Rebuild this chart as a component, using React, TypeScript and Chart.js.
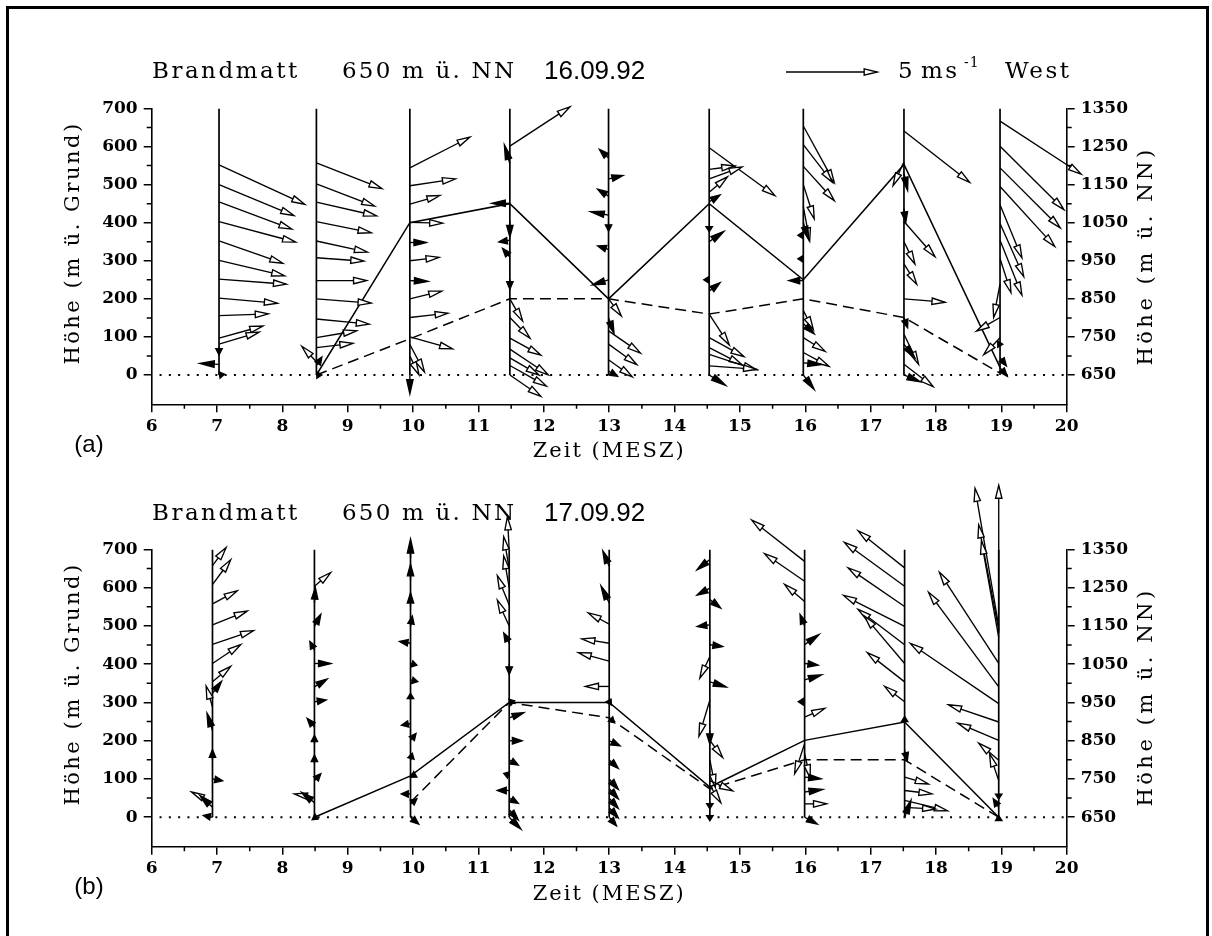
import React, { useEffect, useRef } from 'react';
import { Chart, registerables } from 'chart.js';
Chart.register(...registerables);

// ---------- axes ----------
const xTickValues = [6, 7, 8, 9, 10, 11, 12, 13, 14, 15, 16, 17, 18, 19, 20];
const xMinorValues = [6.5, 7.5, 8.5, 9.5, 10.5, 11.5, 12.5, 13.5, 14.5, 15.5, 16.5, 17.5, 18.5, 19.5];
const yTickValues = [0, 100, 200, 300, 400, 500, 600, 700];
const yMinorValues = [50, 150, 250, 350, 450, 550, 650];
const y2TickValues = [650, 750, 850, 950, 1050, 1150, 1250, 1350];
const y2MinorValues = [700, 800, 900, 1000, 1100, 1200, 1300];
const STATION_HEIGHT = 650;

// arrow scale: 5 m/s legend arrow
const LEGEND_SPEED = 5;
const HOURS_PER_MS = 0.279;
const METERS_PER_MS = 45;

// ---------- 16.09.92 (a) ----------
const timesA = [7.03, 8.52, 9.95, 11.48, 12.99, 14.53, 15.97, 17.51, 18.98];
// [height above ground (m), u (m/s), v (m/s)]
const windA1 = [[552, 4.7, -2.3], [500, 4.1, -1.8], [455, 4.0, -1.6], [403, 4.2, -1.2], [352, 3.5, -1.3], [301, 3.6, -0.9], [252, 3.7, -0.3], [202, 3.2, -0.3], [156, 2.7, 0.1], [97, 2.4, 0.7], [81, 2.2, 0.7], [75, 0, -0.5], [28, -1.05, 0.05], [0, 0.3, 0.05]];
const windA2 = [[557, 3.6, -1.5], [502, 3.2, -1.3], [454, 3.3, -0.8], [403, 3.0, -0.65], [352, 2.8, -0.65], [308, 2.6, -0.2], [248, 2.75, 0], [200, 3.0, -0.25], [147, 2.9, -0.3], [98, 2.2, 0.4], [72, 2.0, 0.25], [35, -0.8, 0.9], [25, 0.3, 0.5], [0, 0.3, 0]];
const windA3 = [[544, 3.3, 1.8], [497, 2.5, 0.4], [449, 1.65, 0.5], [401, 1.8, -0.05], [348, 0.9, 0], [300, 1.6, 0.2], [248, 1.0, -0.05], [200, 1.75, 0.45], [151, 2.1, 0.25], [100, 2.35, -0.7], [80, 0.8, -1.6], [50, 0.5, -1.1], [0, 0, -1.1]];
const windA4 = [[601, 3.3, 2.3], [555, -0.3, 1.1], [451, -1.0, 0], [403, 0, -0.9], [354, -0.6, -0.1], [310, -0.4, 0.5], [252, 0, -0.6], [200, 0.7, -1.3], [151, 1.1, -1.2], [97, 1.7, -1.0], [68, 2.1, -1.5], [45, 1.6, -1.0], [25, 2.0, -1.2], [0, 1.7, -1.25]];
const windA5 = [[570, -0.5, 0.5], [515, 0.8, 0.2], [470, -0.6, 0.4], [420, -1.0, 0.2], [400, 0, -0.5], [330, -0.6, 0.2], [250, -0.9, -0.3], [200, 0.7, -1.0], [150, 0.3, -0.9], [116, 1.75, -1.3], [81, 1.55, -1.2], [40, 1.3, -1.0], [10, 0.5, -0.3]];
const windA6 = [[597, 3.6, -2.8], [540, 1.4, 0.2], [515, 1.8, 0.7], [480, 1.0, 0.9], [455, 0.6, 0.4], [390, 0, -0.3], [350, 0.8, 0.6], [250, -0.3, 0], [220, 0.6, 0.5], [160, 1.1, -1.8], [98, 1.9, -1.1], [72, 1.8, -1.0], [54, 2.6, -0.9], [24, 2.6, -0.2], [0, 0.9, -0.6]];
const windA7 = [[654, 1.7, -3.3], [605, 1.6, -2.2], [548, 1.7, -2.0], [500, 0.6, -2.0], [442, 0.35, -2.0], [400, 0.3, -1.0], [367, -0.3, 0], [305, -0.3, 0], [248, -0.8, 0], [169, 0.55, -1.1], [135, 0.6, -0.6], [98, 1.2, -0.8], [59, 1.4, -0.8], [32, 1.0, -0.1], [0, 0.6, -0.85]];
const windA8 = [[641, 3.6, -3.0], [560, -0.6, -1.4], [530, 0.2, -1.0], [437, 0.1, -0.8], [403, 1.7, -2.05], [350, 0.6, -1.3], [292, 0.7, -1.2], [200, 2.25, -0.2], [151, 0.2, -0.6], [107, 0.8, -1.75], [81, 0.6, -0.8], [28, 1.6, -1.3], [0, 0.9, -0.4]];
const windA9 = [[667, 4.45, -3.1], [601, 3.5, -3.7], [544, 3.3, -3.5], [495, 3.0, -3.5], [447, 1.2, -3.1], [398, 1.3, -3.1], [354, 1.2, -3.2], [306, 0.6, -2.0], [239, -0.35, -1.95], [151, -1.3, -0.8], [98, -0.9, -1.0], [81, 0.15, 0], [46, 0.35, -0.5], [19, 0.4, -0.5]];
const solidA = [null, 0, 400, 450, 200, 450, 250, 553, 20];
const dashedA = [null, 0, 95, 200, 200, 160, 200, 151, 5];

// ---------- 17.09.92 (b) ----------
const timesB = [6.93, 8.49, 9.96, 11.47, 13.0, 14.54, 15.99, 17.52, 18.96];
const windB1 = [[658, 0.75, 1.05], [608, 1.0, 1.45], [558, 1.35, 0.75], [503, 1.9, 0.8], [452, 2.25, 0.8], [402, 1.55, 1.1], [354, 1.0, 0.9], [324, 0.5, 0.7], [289, -0.35, 1.2], [227, -0.3, 1.0], [150, 0, 0.6], [100, 0.55, -0.1], [39, -1.15, 0.6], [26, -0.7, 0.7], [0, -0.5, 0.1]];
const windB2 = [[604, 0.9, 0.8], [560, 0.05, 0.9], [499, 0.35, 0.7], [437, -0.25, 0.5], [402, 0.9, 0], [341, 0.7, 0.45], [302, 0.65, 0.1], [236, -0.4, 0.5], [192, 0, 0.5], [140, 0, 0.5], [96, 0.35, 0.4], [52, -1.1, 0.2], [38, -0.7, 0.6], [0, 0.2, -0.1]];
const windB3 = [[678, 0, 1.1], [621, 0, 0.9], [551, 0, 0.8], [499, 0.1, 0.6], [455, -0.6, 0.1], [402, 0.35, -0.1], [359, 0.4, -0.1], [306, 0, 0.4], [245, -0.5, -0.1], [201, 0.3, 0.4], [149, 0.1, 0.4], [114, 0.35, -0.2], [61, -0.5, 0], [35, 0.35, 0.3], [0, 0.45, -0.4]];
const windB4 = [[700, -0.1, 1.9], [650, -0.3, 1.85], [600, -0.3, 1.85], [555, -0.65, 1.7], [500, -0.65, 1.5], [455, -0.3, 0.6], [400, 0, -0.6], [300, 0.3, 0.1], [260, 0.8, 0.3], [200, 0.7, 0], [150, 0.5, -0.3], [110, -0.3, 0.1], [70, -0.65, 0], [50, 0.5, -0.3], [20, 0.5, -0.6], [0, 0.65, -0.7]];
const windB5 = [[656, -0.35, 0.9], [560, -0.45, 1.0], [505, -1.15, 0.65], [455, -1.5, 0.25], [408, -1.7, 0.5], [342, -1.3, 0], [300, 0.1, 0.2], [260, 0.3, -0.3], [200, 0.6, -0.3], [150, 0.5, -0.5], [100, 0.5, -0.6], [75, 0.5, -0.6], [50, 0.5, -0.6], [25, 0.5, -0.6], [0, 0.4, -0.5]];
const windB6 = [[674, -0.7, -0.6], [599, -0.7, -0.4], [569, 0.6, -0.5], [503, -0.7, -0.1], [451, 0.7, -0.1], [420, -0.55, -1.25], [354, 0.9, -0.3], [306, -0.6, -2.1], [227, 0, -0.8], [201, 0.7, -1.0], [150, 0.3, -1.6], [96, 1.25, -0.6], [83, 0.6, -1.0], [40, 0, -0.4], [0, 0, -0.2]];
const windB7 = [[669, -2.9, 2.4], [617, -2.2, 1.6], [564, -1.1, 1.0], [499, -0.25, 0.7], [451, 0.8, 0.6], [402, 0.75, -0.1], [359, 0.95, 0.3], [302, -0.35, 0], [262, 1.1, 0.5], [192, -0.55, -1.75], [166, 0.3, -1.4], [105, 0.9, -0.1], [66, 1.0, 0.15], [35, 1.2, 0], [0, 0.7, -0.4]];
const windB8 = [[652, -2.55, 2.15], [604, -3.3, 2.55], [551, -3.1, 2.25], [499, -3.35, 1.8], [451, -2.55, 2.05], [402, -2.2, 2.75], [354, -2.05, 1.7], [302, -1.1, 0.9], [250, 0, 0.3], [175, 0.15, -0.6], [105, 1.3, -0.4], [70, 1.5, -0.2], [44, 2.35, -0.6], [26, 1.7, -0.1], [0, 0.35, 1.0]];
const windB9 = [[500, -1.3, 8.0], [490, -1.1, 6.1], [470, -0.95, 5.6], [481, 0, 8.6], [402, -3.25, 5.3], [341, -3.85, 5.5], [297, -4.85, 3.5], [249, -2.75, 1.0], [201, -2.25, 1.0], [149, -1.1, 1.0], [96, -0.5, 1.55], [61, 0, -0.3], [26, -0.3, 0.5], [0, 0, 0.1]];
const solidB = [null, 0, 108, 300, 300, 79, 201, 249, 0];
const dashedB = [null, null, 39, 300, 260, 74, 150, 150, 0];

const titleStation = 'Brandmatt';
const titleHeight = '650 m ü. NN';
const dateA = '16.09.92';
const dateB = '17.09.92';
const xTitle = 'Zeit (MESZ)';
const yTitle = 'Höhe (m ü. Grund)';
const y2Title = 'Höhe (m ü. NN)';

const W = 1196;
const H = 460;
const TICK_FONT = { family: 'DejaVu Serif', size: 17, weight: 'bold' as const };

type Panel = {
  times: number[];
  profiles: number[][][];
  solid: (number | null)[];
  dashed: (number | null)[];
  date: string;
  letter: string;
  legend: boolean;
  padTop: number;
  padBottom: number;
  titleY: number;
  letterY: number;
  xTitleY: number;
  yTitleY: number;
  y2TitleY: number;
};

const panels: Panel[] = [
  {
    times: timesA,
    profiles: [windA1, windA2, windA3, windA4, windA5, windA6, windA7, windA8, windA9],
    solid: solidA, dashed: dashedA, date: dateA, letter: '(a)', legend: true,
    padTop: 100.5, padBottom: 23.7, titleY: 64, letterY: 437, xTitleY: 444, yTitleY: 235, y2TitleY: 248,
  },
  {
    times: timesB,
    profiles: [windB1, windB2, windB3, windB4, windB5, windB6, windB7, windB8, windB9],
    solid: solidB, dashed: dashedB, date: dateB, letter: '(b)', legend: false,
    padTop: 81.5, padBottom: 41.3, titleY: 46, letterY: 419, xTitleY: 427, yTitleY: 216, y2TitleY: 229,
  },
];

function drawArrow(ctx: CanvasRenderingContext2D, x0: number, y0: number, x1: number, y1: number) {
  const dx = x1 - x0, dy = y1 - y0;
  const L = Math.hypot(dx, dy);
  if (L < 0.5) return;
  const ux = dx / L, uy = dy / L;
  let hl = 13, hw = 3.2, filled = false;
  if (L < 20) { hl = Math.max(L * 0.75, 5); hw = 3.2; filled = true; }
  const bx = x1 - ux * hl, by = y1 - uy * hl;
  ctx.beginPath();
  ctx.moveTo(x0, y0);
  ctx.lineTo(bx, by);
  ctx.stroke();
  ctx.beginPath();
  ctx.moveTo(x1, y1);
  ctx.lineTo(bx - uy * hw, by + ux * hw);
  ctx.lineTo(bx + uy * hw, by - ux * hw);
  ctx.closePath();
  ctx.fillStyle = filled ? '#000' : '#fff';
  ctx.fill();
  ctx.stroke();
}

function text(ctx: CanvasRenderingContext2D, s: string, x: number, y: number, font: string, align: CanvasTextAlign = 'left', spacing = 0, rot = 0) {
  ctx.save();
  ctx.translate(x, y);
  if (rot) ctx.rotate(rot);
  ctx.font = font;
  ctx.fillStyle = '#000';
  ctx.textAlign = align;
  ctx.textBaseline = 'middle';
  (ctx as any).letterSpacing = spacing + 'px';
  ctx.fillText(s, 0, 0);
  ctx.restore();
}

function makePlugin(p: Panel) {
  return {
    id: 'windProfiles',
    afterDatasetsDraw(chart: any) {
      const { ctx } = chart;
      const x = chart.scales.x, y = chart.scales.y;
      ctx.save();
      ctx.strokeStyle = '#000';
      ctx.lineWidth = 1.35;
      ctx.lineJoin = 'miter';
      p.profiles.forEach((prof, i) => {
        const t = p.times[i];
        prof.forEach(([h, u, v]) => {
          const x0 = x.getPixelForValue(t), y0 = y.getPixelForValue(h);
          const x1 = x.getPixelForValue(t + u * HOURS_PER_MS);
          const y1 = y.getPixelForValue(h + v * METERS_PER_MS);
          drawArrow(ctx, x0, y0, x1, y1);
        });
      });
      ctx.restore();
    },
    afterDraw(chart: any) {
      const { ctx, chartArea } = chart;
      const x = chart.scales.x, y = chart.scales.y, y2 = chart.scales.y2;
      ctx.save();
      ctx.strokeStyle = '#000';
      ctx.lineWidth = 1.5;
      ctx.beginPath();
      xMinorValues.forEach((v) => { const px = x.getPixelForValue(v); ctx.moveTo(px, chartArea.bottom); ctx.lineTo(px, chartArea.bottom + 4.5); });
      yMinorValues.forEach((v) => { const py = y.getPixelForValue(v); ctx.moveTo(chartArea.left, py); ctx.lineTo(chartArea.left - 5, py); });
      y2MinorValues.forEach((v) => { const py = y2.getPixelForValue(v); ctx.moveTo(chartArea.right, py); ctx.lineTo(chartArea.right + 5, py); });
      ctx.stroke();
      ctx.restore();

      const serif = (s: number) => `${s}px "DejaVu Serif"`;
      text(ctx, titleStation, 144, p.titleY, serif(23), 'left', 2.5);
      text(ctx, titleHeight, 334, p.titleY, serif(23), 'left', 2.2);
      text(ctx, p.date, 536, p.titleY, '26px "Liberation Sans"', 'left', 0);
      text(ctx, p.letter, 81, p.letterY, '24px "Liberation Sans"', 'center', 0);
      text(ctx, xTitle, (chartArea.left + chartArea.right) / 2, p.xTitleY, serif(21), 'center', 2);
      text(ctx, yTitle, 66, p.yTitleY, serif(21), 'center', 2.5, -Math.PI / 2);
      text(ctx, y2Title, 1139, p.y2TitleY, serif(21), 'center', 3.5, -Math.PI / 2);

      if (p.legend) {
        const x0 = 778;
        const len = x.getPixelForValue(6 + LEGEND_SPEED * HOURS_PER_MS) - x.getPixelForValue(6);
        ctx.save();
        ctx.strokeStyle = '#000';
        ctx.lineWidth = 1.35;
        drawArrow(ctx, x0, p.titleY, x0 + len, p.titleY);
        ctx.restore();
        text(ctx, String(LEGEND_SPEED), 890, p.titleY, serif(23), 'left', 2);
        text(ctx, 'ms', 913, p.titleY, serif(23), 'left', 2.5);
        text(ctx, '-1', 956, p.titleY - 9, serif(14), 'left', 1);
        text(ctx, 'West', 997, p.titleY, serif(23), 'left', 2.5);
      }
    },
  };
}

function PanelChart({ p }: { p: Panel }) {
  const ref = useRef<HTMLCanvasElement>(null);
  useEffect(() => {
    const canvas = ref.current!;
    const profileLines: any[] = [];
    p.times.forEach((t) => { profileLines.push({ x: t, y: 0 }, { x: t, y: 700 }, { x: t, y: null }); });
    const pts = (arr: (number | null)[]) => arr.map((v, i) => (v === null ? null : { x: p.times[i], y: v })).filter(Boolean);
    const setTicks = (vals: number[]) => (scale: any) => { scale.ticks = vals.map((value) => ({ value })); };
    const common = {
      grid: { display: true, drawOnChartArea: false, drawTicks: true, tickLength: 8, color: '#000', lineWidth: 1.5 },
      border: { display: true, color: '#000', width: 1.6 },
    };
    const plain = (v: any) => String(v);
    const chart = new Chart(canvas, {
      type: 'line',
      data: {
        datasets: [
          { data: profileLines, borderColor: '#000', borderWidth: 1.7, pointRadius: 0, spanGaps: false, yAxisID: 'y' },
          { data: pts(p.solid), borderColor: '#000', borderWidth: 1.5, pointRadius: 0, yAxisID: 'y' },
          { data: pts(p.dashed), borderColor: '#000', borderWidth: 1.5, borderDash: [11, 6], pointRadius: 0, yAxisID: 'y' },
          { data: [{ x: 6.12, y: 0 }, { x: 20, y: 0 }], borderColor: '#000', borderWidth: 2.2, borderDash: [2, 7.3], pointRadius: 0, yAxisID: 'y' },
        ],
      },
      options: {
        animation: false,
        responsive: false,
        layout: { padding: { left: 0, right: 37.3, top: p.padTop, bottom: p.padBottom } },
        plugins: { legend: { display: false }, tooltip: { enabled: false }, title: { display: false } },
        events: [],
        scales: {
          x: {
            type: 'linear', position: 'bottom', min: 6, max: 20,
            afterBuildTicks: setTicks(xTickValues),
            afterFit: (s: any) => { s.height = 40; },
            ticks: { color: '#000', font: TICK_FONT, padding: 4, maxRotation: 0, autoSkip: false, callback: plain },
            ...common,
          },
          y: {
            type: 'linear', position: 'left', min: -77, max: 700,
            afterBuildTicks: setTicks(yTickValues),
            afterFit: (s: any) => { s.width = 143.7; },
            ticks: { color: '#000', font: TICK_FONT, padding: 6, autoSkip: false, callback: plain },
            ...common,
          },
          y2: {
            type: 'linear', position: 'right', min: -77 + STATION_HEIGHT, max: 700 + STATION_HEIGHT,
            afterBuildTicks: setTicks(y2TickValues),
            afterFit: (s: any) => { s.width = 100; },
            ticks: { color: '#000', font: TICK_FONT, padding: 6, autoSkip: false, callback: plain },
            ...common,
          },
        },
      },
      plugins: [makePlugin(p)],
    } as any);
    return () => chart.destroy();
  }, [p]);
  return <canvas ref={ref} width={W} height={H} style={{ display: 'block', width: W, height: H }} />;
}

export default function App() {
  return (
    <div style={{ width: W, height: 2 * H, background: '#fff' }}>
      <PanelChart p={panels[0]} />
      <PanelChart p={panels[1]} />
      <div style={{ position: 'fixed', left: 6, top: 6, width: 1197, height: 940, border: '3px solid #000', pointerEvents: 'none' }} />
    </div>
  );
}
